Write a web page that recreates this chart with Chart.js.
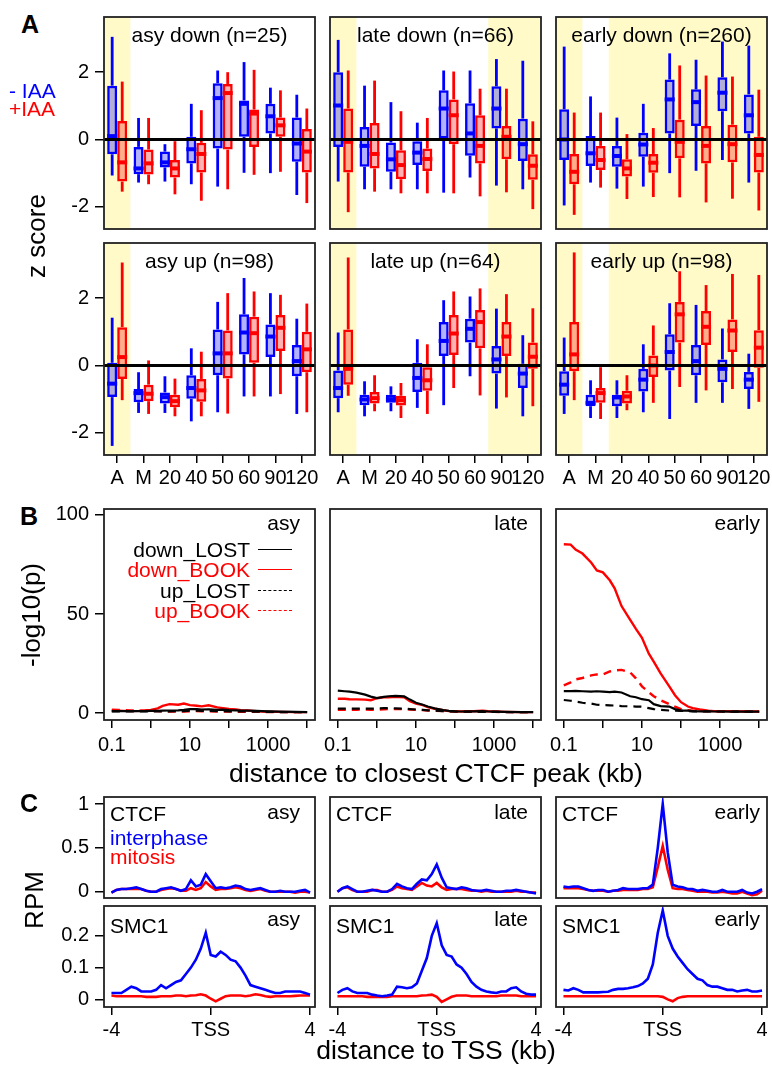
<!DOCTYPE html>
<html>
<head>
<meta charset="utf-8">
<script src="https://cdn.jsdelivr.net/npm/chart.js@4.4.1/dist/chart.umd.min.js"></script>
<style>
  body { margin: 0; width: 772px; height: 1070px; position: relative; overflow: hidden; background: #fff;
         font-family: 'Liberation Sans', Arial, Helvetica, sans-serif; }
  canvas { position: absolute; }
  .lbl { position: absolute; white-space: nowrap; line-height: 1; color: #000; }
  .key { position: absolute; width: 34px; height: 0; }
</style>
</head>
<body>
<script>
const FONT = "'Liberation Sans', Arial, Helvetica, sans-serif";
const BLUE = '#0000ff', RED = '#ff0000', SHADE = 'rgb(255,250,200)';

// ---------- A: box plots, each entry = [lower whisker, q1, median, q3, upper whisker] ----------
const groups = ['A', 'M', '20', '40', '50', '60', '90', '120'];
const zTicks = [-2, 0, 2];

const asyDownMinus = [[-1.07,-0.44,0.10,1.60,3.05],[-1.28,-1.03,-0.86,-0.22,0.64],[-1.25,-0.83,-0.68,-0.36,-0.14],[-1.33,-0.71,-0.29,0.08,1.06],
                      [-1.40,-0.27,1.23,1.67,2.05],[-0.99,0.08,1.06,1.16,2.30],[-1.00,0.18,0.69,1.06,1.54],[-1.65,-0.66,-0.12,0.65,1.33]];
const asyDownPlus  = [[-1.55,-1.25,-0.68,0.55,1.72],[-1.33,-1.04,-0.71,-0.30,0.64],[-1.63,-1.13,-0.86,-0.61,-0.05],[-1.82,-0.98,-0.43,-0.10,0.87],
                      [-1.48,-0.30,1.38,1.65,2.00],[-1.05,-0.22,0.77,0.89,2.07],[-0.96,0.08,0.42,0.65,1.46],[-1.89,-0.98,-0.36,0.31,0.92]];
const lateDownMinus = [[-1.25,-0.22,1.01,2.00,2.96],[-1.48,-0.81,-0.19,0.37,1.60],[-1.48,-0.96,-0.59,-0.09,1.11],[-1.48,-0.76,-0.39,-0.05,0.50],
                       [-1.58,0.03,0.92,1.46,2.05],[-1.13,-0.48,0.18,1.08,2.05],[-1.37,0.33,0.92,1.58,2.39],[-1.48,-0.64,-0.14,0.62,2.34]];
const lateDownPlus  = [[-2.16,-0.98,-0.07,0.92,2.05],[-1.55,-0.86,-0.43,0.49,1.75],[-1.60,-1.18,-0.76,-0.32,0.84],[-1.60,-0.94,-0.58,-0.27,0.64],
                       [-1.60,-0.14,0.72,1.19,2.02],[-1.69,-0.71,-0.19,0.72,1.51],[-1.57,-0.59,0.08,0.40,1.51],[-2.07,-1.20,-0.78,-0.44,0.54]];
const earlyDownMinus = [[-1.96,-0.61,0.00,0.90,2.76],[-1.28,-0.79,-0.41,0.10,1.28],[-1.46,-0.81,-0.49,-0.19,0.65],[-1.40,-0.51,-0.15,0.20,1.06],
                        [-1.00,0.18,1.19,1.78,2.56],[-0.93,0.40,1.11,1.49,2.37],[-0.61,0.84,1.39,1.85,2.91],[-1.28,0.18,0.72,1.34,2.79]];
const earlyDownPlus  = [[-2.24,-1.33,-0.96,-0.43,0.80],[-1.43,-0.91,-0.61,-0.19,0.80],[-1.77,-1.10,-0.86,-0.59,0.16],[-1.71,-0.99,-0.69,-0.43,0.34],
                        [-1.72,-0.56,-0.07,0.59,2.20],[-1.87,-0.71,-0.19,0.40,1.90],[-1.76,-0.68,-0.14,0.44,1.87],[-2.11,-0.98,-0.46,0.08,1.48]];
const asyUpMinus = [[-2.39,-0.94,-0.54,0.08,1.42],[-1.41,-1.09,-0.82,-0.70,-0.20],[-1.41,-1.13,-0.94,-0.80,-0.32],[-1.66,-0.99,-0.67,-0.29,0.51],
                    [-1.39,-0.29,0.36,1.07,1.89],[-0.92,0.33,0.98,1.52,2.60],[-0.92,0.25,0.86,1.22,2.15],[-1.44,-0.32,0.13,0.61,1.39]];
const asyUpPlus  = [[-1.03,-0.40,0.25,1.14,3.06],[-1.44,-1.06,-0.84,-0.57,0.15],[-1.51,-1.24,-1.06,-0.87,-0.39],[-1.51,-1.08,-0.74,-0.40,0.41],
                    [-1.43,-0.39,0.36,1.04,2.15],[-0.92,0.08,0.96,1.45,2.20],[-0.85,0.43,1.12,1.50,2.10],[-1.39,-0.20,0.48,1.00,1.84]];
const lateUpMinus = [[-1.39,-0.97,-0.67,-0.15,0.98],[-1.51,-1.18,-1.01,-0.87,-0.47],[-1.36,-1.11,-1.00,-0.87,-0.62],[-1.26,-0.79,-0.37,0.08,0.78],
                     [-1.18,0.28,0.73,1.29,1.94],[-0.32,0.68,1.09,1.39,2.05],[-1.28,-0.24,0.18,0.58,1.69],[-1.51,-0.67,-0.24,0.05,0.90]];
const lateUpPlus  = [[-0.90,-0.57,-0.10,1.07,3.21],[-1.36,-1.13,-0.97,-0.79,-0.29],[-1.56,-1.19,-1.03,-0.90,-0.52],[-1.44,-0.75,-0.44,-0.05,0.63],
                     [-0.67,0.31,0.95,1.50,2.20],[-0.89,0.51,1.29,1.65,2.29],[-0.95,0.28,0.86,1.29,2.12],[-1.21,-0.10,0.26,0.68,1.70]];
const earlyUpMinus = [[-1.44,-0.90,-0.57,-0.17,0.83],[-1.56,-1.21,-1.11,-0.87,-0.44],[-1.56,-1.21,-0.95,-0.87,-0.44],[-1.39,-0.77,-0.42,-0.10,0.63],
                      [-1.59,-0.15,0.40,0.93,1.85],[-1.11,-0.29,0.13,0.61,1.80],[-1.11,-0.50,-0.10,0.18,1.10],[-1.29,-0.70,-0.42,-0.19,0.35]];
const earlyUpPlus  = [[-1.03,-0.17,0.33,1.29,3.36],[-1.59,-1.11,-0.82,-0.67,-0.05],[-1.33,-1.13,-0.92,-0.75,-0.29],[-1.11,-0.34,0.00,0.30,1.19],
                      [-0.64,0.68,1.52,1.89,2.80],[-0.74,0.61,1.15,1.62,2.39],[-0.70,0.40,1.04,1.37,2.72],[-1.08,-0.07,0.53,1.05,2.69]];

// ---------- B: -log10(p) vs distance to closest CTCF peak ----------
const distKb = [0.1,0.15,0.2,0.3,0.5,0.7,1,1.5,2,3,5,7,10,15,20,30,50,70,100,150,200,300,500,700,1000,2000,5000,10000];
const distTicks = [0.1, 1, 10, 100, 1000, 10000];
const distTickLabels = ['0.1', '', '10', '', '1000', ''];
const pTicks = [0, 50, 100];

const asyDownLost = [1.0,1.0,1.0,1.0,1.0,1.0,1.1,1.1,1.2,1.3,1.4,1.6,2.0,2.0,1.8,1.9,1.6,1.7,1.5,1.4,1.3,1.2,1.1,1.0,0.9,0.7,0.6,0.5];
const asyDownBook = [1.3,1.2,1.1,1.0,1.1,1.3,1.6,2.4,3.6,4.5,4.2,4.8,4.0,3.7,3.4,3.9,2.9,2.5,2.1,1.8,1.5,1.3,1.0,0.8,0.7,0.6,0.5,0.5];
const asyUpLost   = [0.8,0.8,0.8,0.8,0.8,0.8,0.8,0.8,0.9,0.9,1.0,1.0,1.2,1.2,1.1,1.1,1.0,1.0,0.9,0.9,0.8,0.8,0.7,0.7,0.6,0.5,0.5,0.5];
const asyUpBook   = [1.7,1.6,1.5,1.3,1.2,1.2,1.1,1.0,0.9,0.8,0.8,0.8,0.9,1.0,0.9,0.9,0.8,0.8,0.8,0.7,0.7,0.6,0.6,0.6,0.5,0.5,0.5,0.5];
const lateDownLost = [11.3,11.0,10.8,10.3,9.3,8.3,7.6,8.2,8.5,8.7,8.4,6.8,5.2,4.2,3.3,2.4,1.5,1.1,0.9,0.8,0.8,0.9,1.0,0.8,0.7,0.6,0.5,0.5];
const lateDownBook = [7.2,7.2,7.0,6.9,6.8,6.5,7.5,8.0,8.0,8.2,8.0,6.0,4.8,4.0,3.0,2.2,1.4,1.0,0.9,0.8,0.9,0.9,1.2,0.9,0.8,0.6,0.5,0.5];
const lateUpLost   = [2.2,2.2,2.2,2.3,2.2,2.2,2.3,2.5,2.5,2.4,2.2,2.0,1.8,1.6,1.4,1.2,1.0,0.9,0.8,0.7,0.7,0.7,0.6,0.6,0.6,0.5,0.5,0.5];
const lateUpBook   = [1.6,1.7,1.7,1.7,1.8,1.7,1.7,1.9,2.0,2.0,2.0,1.8,1.7,1.5,1.3,1.2,1.0,0.9,0.8,0.7,0.7,0.6,0.6,0.6,0.6,0.5,0.5,0.5];
const earlyDownLost = [11.1,11.1,11.2,11.0,10.8,11.0,10.8,10.6,10.8,10.4,8.5,8.0,7.0,6.5,4.5,3.5,3.3,2.0,1.2,1.2,1.0,0.9,0.9,0.8,0.8,0.7,0.7,0.7];
const earlyDownBook = [85.2,85.0,82.5,80.5,76.0,72.0,71.0,67.0,63.0,54.0,47.0,42.5,38.0,30.0,26.0,20.0,13.5,9.0,5.5,3.3,2.5,1.8,1.2,1.0,1.0,0.9,0.8,0.8];
const earlyUpLost   = [6.6,6.2,5.8,5.2,4.8,4.2,4.0,3.9,3.8,3.5,3.4,3.3,3.2,2.5,2.0,1.6,1.3,1.2,1.1,1.0,0.9,0.9,0.8,0.8,0.8,0.7,0.7,0.7];
const earlyUpBook   = [14.0,15.5,17.0,17.7,19.0,19.5,19.5,21.0,21.5,21.8,20.5,17.5,13.5,10.5,8.5,6.5,4.5,3.2,2.0,1.5,1.2,1.0,0.9,0.9,0.8,0.8,0.7,0.7];

// ---------- C: RPM profiles around the TSS ----------
const tssKb = [-4,-3.8,-3.6,-3.4,-3.2,-3,-2.8,-2.6,-2.4,-2.2,-2,-1.8,-1.6,-1.4,-1.2,-1,-0.8,-0.6,-0.4,-0.2,0,
               0.2,0.4,0.6,0.8,1,1.2,1.4,1.6,1.8,2,2.2,2.4,2.6,2.8,3,3.2,3.4,3.6,3.8,4];
const tssTicks = [-4, 0, 4];
const tssTickLabels = ['-4', 'TSS', '4'];
const ctcfTicks = [0, 0.5, 1], ctcfTickLabels = ['0', '0.5', '1'];
const smcTicks = [0, 0.1, 0.2], smcTickLabels = ['0', '0.1', '0.2'];

const ctcfAsyInter = [-0.01,0.02,0.03,0.03,0.04,0.05,0.03,0.01,0.0,0.0,0.03,0.04,0.05,0.03,0.01,0.03,0.13,0.06,0.08,0.2,0.12,
                      0.04,0.05,0.04,0.05,0.07,0.06,0.03,0.02,0.03,0.04,0.02,0.0,0.0,0.01,0.0,0.0,0.0,0.01,0.02,-0.01];
const ctcfAsyMito  = [-0.01,0.02,0.03,0.03,0.03,0.03,0.03,0.01,0.0,0.0,0.02,0.03,0.04,0.03,0.01,0.01,0.04,0.02,0.04,0.11,0.06,
                      0.02,0.03,0.03,0.04,0.05,0.04,0.02,0.01,0.02,0.03,0.01,0.0,0.0,0.0,0.0,0.0,-0.01,0.0,0.0,-0.01];
const smcAsyInter  = [0.02,0.02,0.02,0.03,0.04,0.035,0.025,0.025,0.025,0.03,0.045,0.035,0.045,0.055,0.06,0.08,0.1,0.125,0.16,0.21,0.14,
                      0.135,0.15,0.14,0.125,0.12,0.1,0.075,0.045,0.04,0.035,0.03,0.025,0.02,0.02,0.025,0.025,0.025,0.025,0.02,0.015];
const smcAsyMito   = [0.012,0.01,0.01,0.01,0.01,0.01,0.01,0.008,0.008,0.008,0.01,0.01,0.01,0.012,0.012,0.01,0.012,0.013,0.016,0.012,0.002,
                      -0.006,0.002,0.01,0.012,0.012,0.012,0.01,0.012,0.016,0.014,0.01,0.008,0.01,0.01,0.01,0.01,0.011,0.012,0.012,0.012];
const ctcfLateInter = [0.0,0.04,0.06,0.03,0.0,0.0,0.01,0.02,0.01,0.0,0.0,0.03,0.09,0.06,0.04,0.03,0.09,0.14,0.13,0.2,0.31,
                       0.16,0.05,0.04,0.03,0.05,0.04,0.02,0.01,0.01,0.02,0.01,0.0,0.0,0.01,0.01,0.02,0.01,0.0,-0.01,-0.02];
const ctcfLateMito  = [0.0,0.04,0.05,0.02,0.0,0.0,0.0,0.02,0.02,0.0,0.0,0.02,0.06,0.04,0.03,0.02,0.06,0.1,0.07,0.06,0.1,
                       0.05,0.02,0.03,0.03,0.03,0.02,0.01,0.01,0.0,0.01,0.0,0.0,0.0,0.0,0.0,0.01,0.0,0.0,-0.01,-0.01];
const smcLateInter  = [0.02,0.03,0.035,0.025,0.02,0.02,0.02,0.015,0.012,0.01,0.012,0.015,0.04,0.038,0.035,0.038,0.05,0.09,0.13,0.2,0.24,
                       0.17,0.14,0.135,0.11,0.1,0.08,0.055,0.04,0.03,0.025,0.022,0.02,0.025,0.025,0.035,0.038,0.025,0.018,0.015,0.015];
const smcLateMito   = [0.01,0.01,0.01,0.01,0.01,0.01,0.008,0.008,0.008,0.008,0.008,0.01,0.01,0.01,0.01,0.01,0.01,0.012,0.013,0.015,0.008,
                       -0.008,0.0,0.008,0.012,0.012,0.012,0.01,0.01,0.01,0.01,0.01,0.01,0.012,0.012,0.012,0.012,0.01,0.01,0.01,0.01];
const ctcfEarlyInter = [0.06,0.05,0.06,0.06,0.04,0.02,0.01,0.02,0.02,0.0,0.01,0.02,0.04,0.03,0.03,0.03,0.04,0.04,0.08,0.5,1.0,
                        0.45,0.08,0.06,0.05,0.03,0.03,0.01,0.02,0.01,0.0,0.0,0.02,0.0,0.0,0.0,0.02,-0.01,-0.02,0.0,0.03];
const ctcfEarlyMito  = [0.04,0.04,0.04,0.04,0.03,0.02,0.01,0.01,0.01,0.0,0.01,0.01,0.02,0.02,0.02,0.02,0.03,0.03,0.05,0.28,0.52,
                        0.25,0.04,0.03,0.03,0.02,0.01,0.0,0.0,0.0,-0.01,-0.01,0.0,-0.01,-0.02,-0.02,0.0,-0.02,-0.04,-0.03,0.01];
const smcEarlyInter  = [0.03,0.028,0.035,0.03,0.022,0.022,0.022,0.022,0.023,0.024,0.03,0.033,0.033,0.035,0.038,0.042,0.05,0.065,0.11,0.21,0.28,
                        0.2,0.16,0.135,0.115,0.095,0.08,0.065,0.06,0.045,0.04,0.04,0.035,0.03,0.03,0.025,0.028,0.03,0.025,0.025,0.028];
const smcEarlyMito    = [0.01,0.01,0.01,0.01,0.01,0.01,0.01,0.01,0.01,0.01,0.01,0.01,0.01,0.01,0.01,0.01,0.01,0.01,0.01,0.01,0.008,
                        0.0,-0.006,0.004,0.008,0.01,0.01,0.01,0.01,0.01,0.01,0.01,0.01,0.01,0.01,0.01,0.01,0.01,0.01,0.01,0.01];

// ---------- layout helpers ----------
const ML = 62, MT = 4, MR = 4, MB = 40;
const COLS = [104, 330, 556], PW = 211;

Chart.defaults.font.family = FONT;
Chart.defaults.color = '#000';

function makeCanvas(left, top, w, h) {
    const c = document.createElement('canvas');
    c.width = w + ML + MR;
    c.height = h + MT + MB;
    c.style.left = (left - ML) + 'px';
    c.style.top = (top - MT) + 'px';
    document.body.appendChild(c);
    return c;
}

function fitTo(prop, size) {
    return s => {
        s[prop] = size;
        s.paddingLeft = s.paddingRight = s.paddingTop = s.paddingBottom = 0;
    };
}

function tickAxis(show, labels, len, pad) {
    return {
        border: { display: false },
        grid: { display: show, drawOnChartArea: false, offset: false, tickLength: len, color: '#000', lineWidth: 1.5 },
        ticks: { display: show, autoSkip: false, maxRotation: 0, color: '#000', font: { family: FONT, size: 20 },
                 padding: pad, callback: (v, i) => labels[i] }
    };
}

function yAxis(min, max, ticks, labels, show) {
    return Object.assign({ type: 'linear', min, max,
        afterBuildTicks: s => { s.ticks = ticks.map(v => ({ value: v })); },
        afterFit: fitTo('width', ML) }, tickAxis(show, labels, 9, 6));
}

const framePlugin = {
    id: 'frame',
    afterDraw(chart) {
        const { ctx, chartArea: a } = chart;
        ctx.save();
        ctx.strokeStyle = '#222';
        ctx.lineWidth = 1.8;
        ctx.strokeRect(a.left, a.top, a.right - a.left, a.bottom - a.top);
        ctx.restore();
    }
};

const shadePlugin = {
    id: 'shade',
    beforeDatasetsDraw(chart, args, opts) {
        if (!opts.ranges) return;
        const { ctx, chartArea: a, scales: { x } } = chart;
        ctx.save();
        ctx.fillStyle = SHADE;
        opts.ranges.forEach(([from, to]) => {
            const x0 = Math.max(a.left, x.getPixelForValue(from));
            const x1 = Math.min(a.right, x.getPixelForValue(to));
            ctx.fillRect(x0, a.top, x1 - x0, a.bottom - a.top);
        });
        ctx.restore();
    }
};

const medianPlugin = {
    id: 'medians',
    afterDatasetsDraw(chart) {
        const { ctx, scales: { y } } = chart;
        ctx.save();
        ctx.lineWidth = 4;
        chart.data.datasets.forEach((ds, di) => {
            if (!ds.stats) return;
            ctx.strokeStyle = ds.borderColor;
            chart.getDatasetMeta(di).data.forEach((bar, i) => {
                const py = y.getPixelForValue(ds.stats[i][2]);
                ctx.beginPath();
                ctx.moveTo(bar.x - bar.width / 2, py);
                ctx.lineTo(bar.x + bar.width / 2, py);
                ctx.stroke();
            });
        });
        ctx.restore();
    }
};

const zeroLine = {
    id: 'zeroLine',
    afterDatasetsDraw(chart) {
        const { ctx, chartArea: a, scales: { y } } = chart;
        const py = y.getPixelForValue(0);
        ctx.save();
        ctx.strokeStyle = '#000';
        ctx.lineWidth = 3;
        ctx.beginPath();
        ctx.moveTo(a.left, py);
        ctx.lineTo(a.right, py);
        ctx.stroke();
        ctx.restore();
    }
};

function baseOptions() {
    return {
        responsive: false, animation: false, devicePixelRatio: 1, events: [],
        layout: { padding: { left: 0, top: MT, right: MR, bottom: 0 } },
        plugins: { legend: { display: false }, tooltip: { enabled: false } }
    };
}

// ---------- A ----------
// every dataset of a colour shares one stack slot, so whiskers and box sit on the same centre
function boxSets(stats, color, fill, stack) {
    const common = { stack, categoryPercentage: 0.76, borderSkipped: false };
    return [
        Object.assign({ data: stats.map(s => [s[0], s[1]]), backgroundColor: color, borderWidth: 0, barPercentage: 0.28 }, common),
        Object.assign({ data: stats.map(s => [s[3], s[4]]), backgroundColor: color, borderWidth: 0, barPercentage: 0.28 }, common),
        Object.assign({ data: stats.map(s => [s[1], s[3]]), backgroundColor: fill, borderColor: color, borderWidth: 2.5,
                        barPercentage: 1.0, stats }, common)
    ];
}

function boxChart(col, top, minus, plus, shade, showX, showY) {
    const opts = baseOptions();
    opts.plugins.shade = { ranges: shade };
    opts.scales = {
        x: Object.assign({ type: 'category', offset: true, afterFit: fitTo('height', MB) }, tickAxis(showX, groups, 8, 3)),
        y: Object.assign(yAxis(-2.66, 3.64, zTicks, zTicks.map(String), showY), { stacked: false })
    };
    new Chart(makeCanvas(COLS[col], top, PW, 212), {
        type: 'bar',
        data: { labels: groups, datasets: [...boxSets(minus, BLUE, 'rgba(0,0,255,0.3)', 'minus'),
                                           ...boxSets(plus, RED, 'rgba(255,0,0,0.3)', 'plus')] },
        options: opts,
        plugins: [shadePlugin, medianPlugin, zeroLine, framePlugin]
    });
}

const shadeAsy = [[-1, 0.5]], shadeLate = [[-1, 0.5], [5.5, 8]], shadeEarly = [[-1, 0.5], [1.5, 8]];
boxChart(0, 17, asyDownMinus, asyDownPlus, shadeAsy, false, true);
boxChart(1, 17, lateDownMinus, lateDownPlus, shadeLate, false, false);
boxChart(2, 17, earlyDownMinus, earlyDownPlus, shadeEarly, false, false);
boxChart(0, 243, asyUpMinus, asyUpPlus, shadeAsy, true, true);
boxChart(1, 243, lateUpMinus, lateUpPlus, shadeLate, true, false);
boxChart(2, 243, earlyUpMinus, earlyUpPlus, shadeEarly, true, false);

// ---------- B ----------
function distChart(col, downLost, downBook, upLost, upBook) {
    const pts = arr => distKb.map((x, i) => ({ x, y: arr[i] }));
    const opts = baseOptions();
    opts.elements = { point: { radius: 0 }, line: { tension: 0 } };
    opts.scales = {
        x: Object.assign({ type: 'logarithmic', min: Math.pow(10, -1.2), max: Math.pow(10, 4.2),
            afterBuildTicks: s => { s.ticks = distTicks.map(v => ({ value: v })); },
            afterFit: fitTo('height', MB) }, tickAxis(true, distTickLabels, 8, 5)),
        y: yAxis(-3.5, 103, pTicks, pTicks.map(String), col === 0)
    };
    new Chart(makeCanvas(COLS[col], 509, PW, 211), {
        type: 'line',
        data: { datasets: [
            { data: pts(upLost), borderColor: '#000', borderWidth: 2.2, borderDash: [8, 6] },
            { data: pts(downLost), borderColor: '#000', borderWidth: 2.2 },
            { data: pts(upBook), borderColor: RED, borderWidth: 2.4, borderDash: [8, 6] },
            { data: pts(downBook), borderColor: RED, borderWidth: 2.4 }
        ] },
        options: opts,
        plugins: [framePlugin]
    });
}
distChart(0, asyDownLost, asyDownBook, asyUpLost, asyUpBook);
distChart(1, lateDownLost, lateDownBook, lateUpLost, lateUpBook);
distChart(2, earlyDownLost, earlyDownBook, earlyUpLost, earlyUpBook);

// ---------- C ----------
function tssChart(col, top, inter, mito, min, max, ticks, labels, showX) {
    const pts = arr => tssKb.map((x, i) => ({ x, y: arr[i] }));
    const opts = baseOptions();
    opts.elements = { point: { radius: 0 }, line: { tension: 0 } };
    opts.scales = {
        x: Object.assign({ type: 'linear', min: -4.3, max: 4.2,
            afterBuildTicks: s => { s.ticks = tssTicks.map(v => ({ value: v })); },
            afterFit: fitTo('height', MB) }, tickAxis(showX, tssTickLabels, 8, 3)),
        y: yAxis(min, max, ticks, labels, col === 0)
    };
    new Chart(makeCanvas(COLS[col], top, PW, 101), {
        type: 'line',
        data: { datasets: [
            { data: pts(inter), borderColor: BLUE, borderWidth: 2.6 },
            { data: pts(mito), borderColor: RED, borderWidth: 2.6 }
        ] },
        options: opts,
        plugins: [framePlugin]
    });
}
tssChart(0, 797, ctcfAsyInter, ctcfAsyMito, -0.072, 1.08, ctcfTicks, ctcfTickLabels, false);
tssChart(1, 797, ctcfLateInter, ctcfLateMito, -0.072, 1.08, ctcfTicks, ctcfTickLabels, false);
tssChart(2, 797, ctcfEarlyInter, ctcfEarlyMito, -0.072, 1.08, ctcfTicks, ctcfTickLabels, false);
tssChart(0, 906, smcAsyInter, smcAsyMito, -0.024, 0.294, smcTicks, smcTickLabels, true);
tssChart(1, 906, smcLateInter, smcLateMito, -0.024, 0.294, smcTicks, smcTickLabels, true);
tssChart(2, 906, smcEarlyInter, smcEarlyMito, -0.024, 0.294, smcTicks, smcTickLabels, true);

// ---------- text ----------
function label(text, x, y, o = {}) {
    const d = document.createElement('div');
    d.className = 'lbl';
    d.textContent = text;
    d.style.left = x + 'px';
    d.style.top = y + 'px';
    d.style.fontSize = (o.size || 21) + 'px';
    if (o.color) d.style.color = o.color;
    if (o.bold) d.style.fontWeight = 'bold';
    const tx = o.align === 'left' ? '0' : o.align === 'right' ? '-100%' : '-50%';
    d.style.transform = 'translate(' + tx + ', -50%)' + (o.rotate ? ' rotate(-90deg)' : '');
    document.body.appendChild(d);
}
function key(x, y, color, dashed) {
    const d = document.createElement('div');
    d.className = 'key';
    d.style.left = x + 'px';
    d.style.top = y + 'px';
    d.style.borderTop = '1.5px ' + (dashed ? 'dashed ' : 'solid ') + color;
    document.body.appendChild(d);
}

label('A', 30, 24, { bold: true, size: 25 });
label('- IAA', 9, 90, { align: 'left', color: BLUE });
label('+IAA', 9, 108, { align: 'left', color: RED });
label('z score', 36, 236, { rotate: true, size: 26 });
['asy down (n=25)', 'late down (n=66)', 'early down (n=260)'].forEach((t, i) => label(t, COLS[i] + PW / 2, 34));
['asy up (n=98)', 'late up (n=64)', 'early up (n=98)'].forEach((t, i) => label(t, COLS[i] + PW / 2, 260));

label('B', 29, 516, { bold: true, size: 25 });
label('-log10(p)', 31, 615, { rotate: true, size: 26 });
label('asy', 300, 522, { align: 'right' });
label('late', 528, 522, { align: 'right' });
label('early', 760, 522, { align: 'right' });
[['down_LOST', '#000', false], ['down_BOOK', RED, false], ['up_LOST', '#000', true], ['up_BOOK', RED, true]]
    .forEach(([t, c, dash], i) => {
        const y = 549 + i * 20.3;
        label(t, 250, y, { align: 'right', color: c });
        key(258, y, c, dash);
    });
label('distance to closest CTCF peak (kb)', 436, 773, { size: 26.5 });

label('C', 29, 803, { bold: true, size: 25 });
label('RPM', 34, 900, { rotate: true, size: 26 });
['asy', 'late', 'early'].forEach((t, i) => {
    const r = [300, 528, 760][i];
    label(t, r, 811, { align: 'right' });
    label(t, r, 918, { align: 'right' });
    label('CTCF', COLS[i] + 6, 813, { align: 'left' });
    label('SMC1', COLS[i] + 6, 925, { align: 'left' });
});
label('interphase', 110, 837, { align: 'left', color: BLUE });
label('mitosis', 110, 856, { align: 'left', color: RED });
label('distance to TSS (kb)', 436, 1050, { size: 26.5 });
</script>
</body>
</html>
